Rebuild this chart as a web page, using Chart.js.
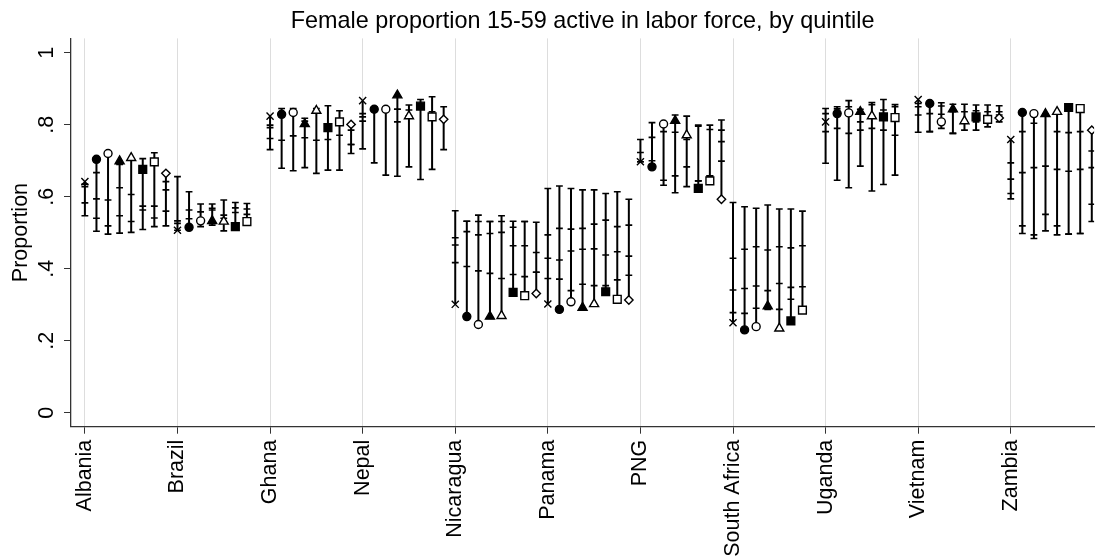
<!DOCTYPE html>
<html>
<head>
<meta charset="utf-8">
<script src="https://cdn.jsdelivr.net/npm/chart.js@4/dist/chart.umd.min.js"></script>
<style>
  body { margin: 0; background: #fff; }
  canvas { display: block; }
</style>
</head>
<body>
<canvas id="grafico" width="1101" height="560"></canvas>
<script>
// countries on the x axis, 8 series per country
const countries = ['Albania', 'Brazil', 'Ghana', 'Nepal', 'Nicaragua', 'Panama', 'PNG', 'South Africa', 'Uganda', 'Vietnam', 'Zambia'];
const yTicks = [0, 0.2, 0.4, 0.6, 0.8, 1];
const yTickLabels = ['0', '.2', '.4', '.6', '.8', '1'];

// each entry: [marker value, then the other quintile ticks]; null = no data
const xMark = [
    [.642, .635, .628, .583, .547], [.507, .656, .533, .526, .507], [.824, .799, .792, .762, .731],
    [.867, .831, .822, .810, .733], [.301, .561, .486, .466, .417], [.302, .623, .494, .429, .373],
    [.697, .759, .723, .697, .697], [.250, .584, .429, .341, .278], [.808, .845, .831, .781, .693],
    [.870, .859, .850, .827, .779], [.759, .694, .649, .609, .594]
];
const solidCircle = [
    [.704, .667, .594, .540, .504], [.515, .614, .563, .539, .515], [.829, .845, .829, .757, .679],
    [.843, .850, .843, .843, .694], [.267, .532, .532, .503, .406], [.287, .630, .512, .424, .371],
    [.683, .806, .765, .700, .683], [.230, .572, .454, .345, .276], [.831, .850, .844, .790, .646],
    [.859, .859, .831, .781, .781], [.834, .781, .667, .519, .498]
];
const hollowCircle = [
    [.720, .720, .591, .519, .496], [.533, .580, .558, .533, .517], [.834, .845, .834, .769, .672],
    [.843, .850, .843, .843, .660], [.245, .549, .531, .494, .394], [.308, .623, .510, .449, .339],
    [.802, .806, .781, .646, .632], [.239, .568, .461, .352, .290], [.833, .867, .850, .776, .625],
    [.808, .861, .852, .829, .790], [.831, .804, .681, .494, .484]
];
const solidTriangle = [
    [.699, .690, .625, .547, .499], [.533, .580, .568, .563, .521], [.802, .818, .810, .764, .681],
    [.882, .843, .843, .808, .657], [.267, .531, .531, .498, .387], [.292, .619, .512, .454, .357],
    [.811, .827, .779, .658, .611], [.296, .577, .452, .339, .287], [.836, .843, .808, .785, .685],
    [.843, .857, .836, .776, .776], [.830, .830, .685, .551, .505]
];
const hollowTriangle = [
    [.708, .702, .606, .531, .501], [.531, .591, .549, .540, .505], [.839, .845, .839, .757, .665],
    [.824, .855, .841, .824, .683], [.269, .547, .531, .501, .373], [.302, .619, .524, .455, .353],
    [.771, .824, .759, .683, .628], [.234, .566, .461, .359, .287], [.824, .862, .856, .790, .616],
    [.810, .857, .836, .804, .785], [.836, .781, .676, .519, .494]
];
const solidSquare = [
    [.676, .706, .574, .563, .509], [.517, .584, .569, .556, .517], [.792, .853, .792, .759, .674],
    [.852, .870, .852, .852, .648], [.334, .532, .515, .464, .384], [.336, .609, .535, .438, .353],
    [.623, .799, .796, .644, .644], [.255, .566, .458, .348, .315], [.822, .870, .841, .785, .634],
    [.822, .855, .839, .808, .785], [.848, .778, .671, .496, .496]
];
const hollowSquare = [
    [.697, .722, .574, .541, .517], [.531, .581, .566, .551, .531], [.808, .839, .808, .771, .674],
    [.822, .878, .836, .827, .676], [.325, .531, .531, .464, .378], [.315, .614, .517, .447, .369],
    [.644, .799, .787, .658, .658], [.285, .560, .464, .350, .285], [.820, .856, .850, .771, .660],
    [.815, .855, .836, .818, .794], [.845, .781, .676, .498, .498]
];
const hollowDiamond = [
    [.665, .642, .619, .560, .519], null, [.801, .785, .745, .745, .720],
    [.815, .850, .815, .815, .731], [.331, .529, .445, .390, .390], [.313, .593, .521, .435, .382],
    [.593, .813, .785, .753, .699], null, null,
    [.819, .853, .836, .827, .808], [.785, .727, .681, .579, .531]
];

const series = [xMark, solidCircle, hollowCircle, solidTriangle, hollowTriangle, solidSquare, hollowSquare, hollowDiamond];
const symbols = [
    { style: 'crossRot', radius: 5, fill: '#000' },
    { style: 'circle', radius: 4, fill: '#000' },
    { style: 'circle', radius: 4, fill: '#fff' },
    { style: 'triangle', radius: 5.2, fill: '#000' },
    { style: 'triangle', radius: 5.2, fill: '#fff' },
    { style: 'rect', radius: 5.5, fill: '#000' },
    { style: 'rect', radius: 5.5, fill: '#fff' },
    { style: 'rectRot', radius: 4.2, fill: '#fff' }
];
const perCountry = 8;

function posicao(ci, si) {
    return ci * perCountry + si;
}

// vertical range lines, broken by null points
const linhas = [];
const marcas = [];
series.forEach((s, si) => {
    s.forEach((q, ci) => {
        if (!q) return;
        const x = posicao(ci, si);
        linhas.push({ x: x, y: Math.min(...q) }, { x: x, y: Math.max(...q) }, { x: x, y: null });
        q.slice(1).forEach(v => marcas.push({ x: x, y: v }));
    });
});

const datasets = series.map((s, si) => ({
    label: 'serie' + si,
    data: s.map((q, ci) => q ? { x: posicao(ci, si), y: q[0] } : null).filter(p => p),
    pointStyle: symbols[si].style,
    pointRadius: symbols[si].radius,
    backgroundColor: symbols[si].fill,
    borderColor: '#000',
    borderWidth: 1.4,
    order: 1
}));
datasets.push({
    label: 'ticks',
    data: marcas,
    pointStyle: 'line',
    pointRadius: 3.4,
    borderColor: '#000',
    borderWidth: 1.6,
    order: 2
});
datasets.push({
    label: 'ranges',
    data: linhas,
    showLine: true,
    spanGaps: false,
    pointRadius: 0,
    borderColor: '#000',
    borderWidth: 2,
    order: 3
});

Chart.defaults.font.family = '"Liberation Sans", Arial, sans-serif';
Chart.defaults.color = '#000';

const grafico = new Chart(document.getElementById('grafico'), {
    type: 'scatter',
    data: { datasets: datasets },
    options: {
        responsive: false,
        animation: false,
        devicePixelRatio: 1,
        events: [],
        layout: { padding: 0 },
        plugins: {
            legend: { display: false },
            tooltip: { enabled: false },
            title: {
                display: true,
                text: 'Female proportion 15-59 active in labor force, by quintile',
                fullSize: false,
                font: { size: 23.4, weight: 'normal' },
                color: '#000',
                padding: { top: 7.8, bottom: 2.5 }
            }
        },
        scales: {
            x: {
                type: 'linear',
                min: -1.2,
                max: 87.2,
                afterBuildTicks: scale => {
                    scale.ticks = countries.map((c, i) => ({ value: i * perCountry }));
                },
                afterFit: scale => { scale.height = 133.3; },
                ticks: {
                    autoSkip: false,
                    minRotation: 90,
                    maxRotation: 90,
                    padding: 6,
                    font: { size: 21.5 },
                    callback: (v) => countries[Math.round(v / perCountry)]
                },
                grid: { color: '#dddddd', lineWidth: 1, tickColor: '#333', tickLength: 7 },
                border: { color: '#333', width: 1.3 }
            },
            y: {
                min: -0.039,
                max: 1.04,
                afterBuildTicks: scale => {
                    scale.ticks = yTicks.map(v => ({ value: v }));
                },
                afterFit: scale => { scale.width = 71; },
                ticks: {
                    minRotation: 90,
                    maxRotation: 90,
                    crossAlign: 'center',
                    padding: 8,
                    font: { size: 21.5 },
                    callback: (v, i) => yTickLabels[i]
                },
                grid: { drawOnChartArea: false, tickColor: '#333', tickLength: 7 },
                border: { color: '#333', width: 1.3 },
                title: {
                    display: true,
                    text: 'Proportion',
                    font: { size: 21.5 },
                    padding: { top: 8, bottom: 0 }
                }
            }
        }
    }
});
</script>
</body>
</html>
